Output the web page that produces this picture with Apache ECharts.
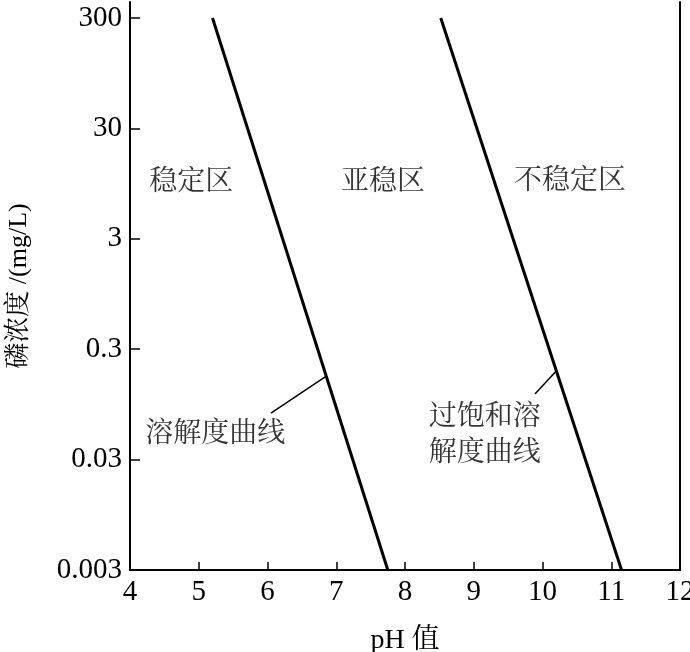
<!DOCTYPE html>
<html>
<head>
<meta charset="utf-8">
<script src="https://cdn.jsdelivr.net/npm/echarts@6/dist/echarts.min.js"></script>
<style>html,body{margin:0;padding:0;background:#fff;}#c{width:690px;height:652px;}</style>
</head>
<body>
<div id="c"></div>
<script>
// ---- data ----
var yTickValues = [0.003, 0.03, 0.3, 3, 30, 300];
var yTickLabels = ['0.003', '0.03', '0.3', '3', '30', '300'];
var xTickLabels = ['4', '5', '6', '7', '8', '9', '10', '11', '12'];
var solubilityCurve = [[5.2, 300], [7.75, 0.003]];
var supersatCurve = [[8.52, 300], [11.15, 0.003]];
var solubilityLeader = [[6.85, 0.17], [6.05, 0.079]];
var supersatLeader = [[10.2, 0.19], [9.89, 0.118]];
var regionLabels = [
  {name: '稳定区', value: [4.89, 9.6]},
  {name: '亚稳区', value: [7.68, 9.6]},
  {name: '不稳定区', value: [10.4, 9.8]}
];
var curveLabels = [
  {name: '溶解度曲线', value: [5.24, 0.05]},
  {name: '过饱和溶\n解度曲线', value: [9.16, 0.049]}
];
var yBase = 0.003;
var yTop = 419;

// ---- helpers: y axis drawn in decades above 0.003 ----
function ty(v) { return Math.log10(v / yBase); }
function tr(pts) { return pts.map(function (p) { return [p[0], ty(p[1])]; }); }
var font = '"Liberation Serif", "Noto Serif CJK SC", "Noto Sans CJK SC", serif';

var chart = echarts.init(document.getElementById('c'), null, {renderer: 'canvas'});
var lineStyleThick = {color: '#000', width: 3};
var lineStyleThin = {color: '#000', width: 1.5};

chart.setOption({
  animation: false,
  backgroundColor: '#fff',
  textStyle: {fontFamily: font, color: '#000'},
  grid: {left: 130, right: 10, top: 2, bottom: 82, containLabel: false, outerBoundsMode: 'none'},
  xAxis: {
    type: 'value', min: 4, max: 12, interval: 1,
    name: 'pH 值', nameLocation: 'middle', nameGap: 57,
    nameTextStyle: {fontFamily: font, fontSize: 28, color: '#000'},
    axisLine: {lineStyle: {color: '#000', width: 2}},
    axisTick: {inside: true, length: 8, lineStyle: {color: '#000', width: 1.5}},
    axisLabel: {fontFamily: font, fontSize: 29, color: '#000', margin: 8,
      formatter: function (v) { return xTickLabels[Math.round(v - 4)]; }},
    splitLine: {show: false}
  },
  yAxis: [{
    type: 'value', min: 0, max: ty(yTop),
    name: '磷浓度 /(mg/L)', nameLocation: 'middle', nameGap: 98, nameRotate: 90,
    nameTextStyle: {fontFamily: font, fontSize: 26, color: '#000'},
    axisLine: {lineStyle: {color: '#000', width: 2}},
    axisTick: {inside: true, length: 10, lineStyle: {color: '#000', width: 1.5},
      customValues: yTickValues.map(ty)},
    axisLabel: {fontFamily: font, fontSize: 29, color: '#000', margin: 8,
      customValues: yTickValues.map(ty),
      formatter: function (v) { return yTickLabels[Math.round(v)]; }},
    splitLine: {show: false}
  }, {
    type: 'value', min: 0, max: ty(yTop), position: 'right',
    axisLine: {show: true, lineStyle: {color: '#000', width: 2}},
    axisTick: {show: false}, axisLabel: {show: false}, splitLine: {show: false}
  }],
  series: [
    {type: 'line', data: tr(solubilityCurve), symbol: 'none', lineStyle: lineStyleThick, silent: true},
    {type: 'line', data: tr(supersatCurve), symbol: 'none', lineStyle: lineStyleThick, silent: true},
    {type: 'line', data: tr(solubilityLeader), symbol: 'none', lineStyle: lineStyleThin, silent: true},
    {type: 'line', data: tr(supersatLeader), symbol: 'none', lineStyle: lineStyleThin, silent: true},
    {type: 'scatter', symbolSize: 0, silent: true,
      data: regionLabels.concat(curveLabels).map(function (d) {
        return {name: d.name, value: [d.value[0], ty(d.value[1])]};
      }),
      label: {show: true, position: 'inside', formatter: '{b}',
        fontFamily: font, fontSize: 28, color: '#000', lineHeight: 36}}
  ]
});
</script>
</body>
</html>
